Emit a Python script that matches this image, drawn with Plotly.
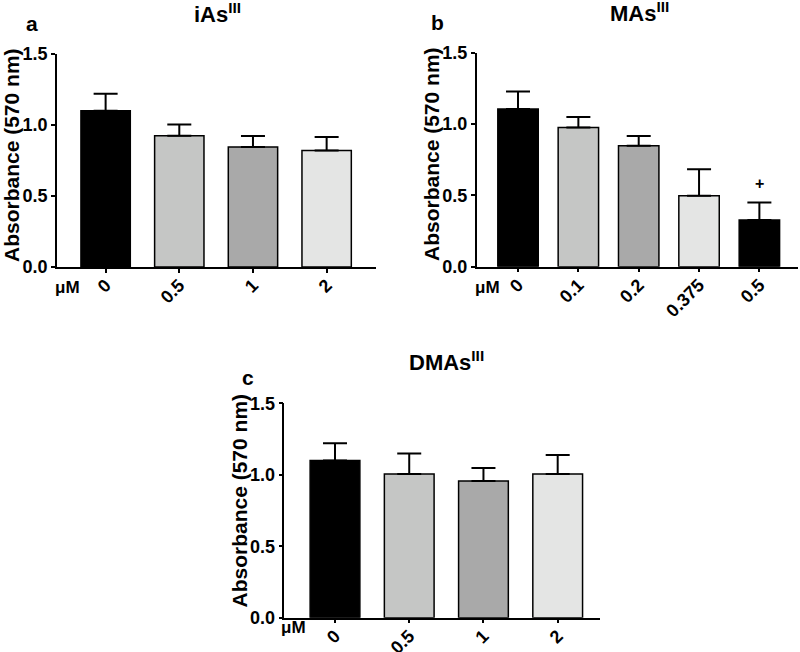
import plotly.graph_objects as go

# ---- data ----
cats_a = ["0", "0.5", "1", "2"]
vals_a = [1.10, 0.925, 0.845, 0.82]
err_a = [0.12, 0.078, 0.078, 0.095]

cats_b = ["0", "0.1", "0.2", "0.375", "0.5"]
vals_b = [1.105, 0.975, 0.847, 0.497, 0.327]
err_b = [0.122, 0.073, 0.068, 0.185, 0.123]

cats_c = ["0", "0.5", "1", "2"]
vals_c = [1.10, 1.006, 0.957, 1.006]
err_c = [0.12, 0.142, 0.091, 0.133]

colors4 = ["#000000", "#c5c6c5", "#a9a9a9", "#e4e5e4"]
colors5 = ["#000000", "#c5c6c5", "#a9a9a9", "#e4e5e4", "#000000"]

titles = ["iAs<sup>III</sup>", "MAs<sup>III</sup>", "DMAs<sup>III</sup>"]
letters = ["a", "b", "c"]
ytitle = "Absorbance (570 nm)"
unit = "μM"

FONT = "Liberation Sans, Arial, sans-serif"

fig = go.Figure()

def add_bar(cats, vals, errs, cols, xa, ya):
    fig.add_trace(go.Bar(
        x=list(range(len(cats))), y=vals,
        marker=dict(color=cols, line=dict(color="black", width=1.5)),
        width=0.67,
        error_y=dict(type="data", array=errs, arrayminus=[0]*len(errs),
                     symmetric=False, color="black", thickness=2, width=12),
        xaxis=xa, yaxis=ya, showlegend=False, hoverinfo="skip",
    ))

add_bar(cats_a, vals_a, err_a, colors4, "x", "y")
add_bar(cats_b, vals_b, err_b, colors5, "x2", "y2")
add_bar(cats_c, vals_c, err_c, colors4, "x3", "y3")

def xax(cats, dom, rng, anchor):
    return dict(domain=dom, range=rng, anchor=anchor, automargin=False,
                tickmode="array", tickvals=list(range(len(cats))), ticktext=cats,
                tickangle=-45, ticks="outside", ticklen=4, tickwidth=1.5, tickcolor="black",
                ticklabelstandoff=-5,
                showline=True, linecolor="black", linewidth=1.5,
                showgrid=False, zeroline=False,
                tickfont=dict(family=FONT, size=18, color="black", weight="bold"))

def yax(dom, anchor):
    return dict(domain=dom, range=[0, 1.5], anchor=anchor, automargin=False,
                tickmode="array", tickvals=[0, 0.5, 1.0, 1.5],
                ticktext=["0.0", "0.5", "1.0", "1.5"],
                ticks="outside", ticklen=4, tickwidth=1.5, tickcolor="black",
                showline=True, linecolor="black", linewidth=1.5,
                showgrid=False, zeroline=False,
                tickfont=dict(family=FONT, size=18, color="black", weight="bold"))

W, H = 800, 652
def px(x): return x / W
def py(y): return 1 - y / H

fig.update_layout(
    width=W, height=H, margin=dict(l=0, r=0, t=0, b=0, autoexpand=False),
    plot_bgcolor="white", paper_bgcolor="white",
    xaxis=xax(cats_a, [px(57), px(376)], [-0.66, 3.67], "y"),
    yaxis=yax([py(267), py(54)], "x"),
    xaxis2=xax(cats_b, [px(476.7), px(798)], [-0.685, 4.64], "y2"),
    yaxis2=yax([py(266.7), py(52.5)], "x2"),
    xaxis3=xax(cats_c, [px(284.3), px(600)], [-0.683, 3.57], "y3"),
    yaxis3=yax([py(617.7), py(403.3)], "x3"),
)

ann = []
def txt(x, y, t, size, angle=0):
    ann.append(dict(x=px(x), y=py(y), xref="paper", yref="paper", text=t, showarrow=False,
                    xanchor="center", yanchor="middle", textangle=angle,
                    font=dict(family=FONT, size=size, color="black", weight="bold")))

# titles
txt(217, 13, titles[0], 22)
txt(639, 12, titles[1], 22)
txt(446, 361, titles[2], 22)
# panel letters
txt(32, 23, letters[0], 21)
txt(437, 22, letters[1], 21)
txt(247.5, 377, letters[2], 21)
# y titles
txt(12, 155, ytitle, 21, -90)
txt(432, 154, ytitle, 21, -90)
txt(238.5, 500, ytitle, 21, -90)
# unit labels
txt(67.5, 287, unit, 17)
txt(487, 287, unit, 17)
txt(293, 627, unit, 17)

fig.update_layout(annotations=ann)
# significance mark
fig.add_annotation(x=4, y=0.58, xref="x2", yref="y2", text="+", showarrow=False,
                   font=dict(family=FONT, size=16, color="black", weight="bold"))

fig.write_html("out.html", config={"displayModeBar": False},
               post_script="document.body.style.margin='0px';")
